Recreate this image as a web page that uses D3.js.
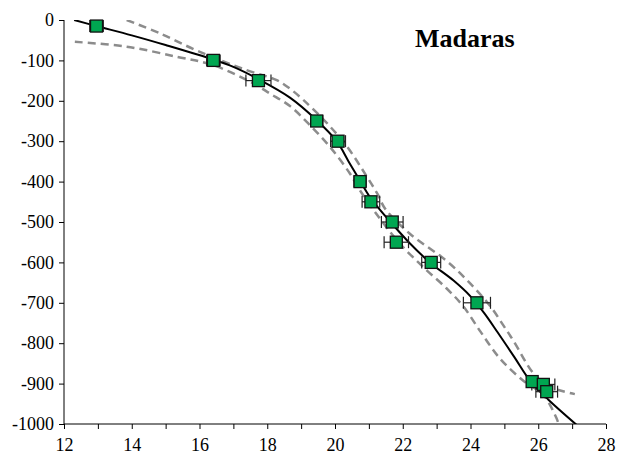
<!DOCTYPE html>
<html lang="en">
<head>
    <meta charset="UTF-8">
    <title>Madaras</title>
    <script src="https://d3js.org/d3.v7.min.js"></script>
    <style>
        body{
            margin: 0;
            background: #ffffff;
        }
        .axis line{
            stroke: #000;
            stroke-width: 1;
        }
    </style>
</head>
<body>
<svg id="chart" width="619" height="458"></svg>
<script>
    // measured points (age, depth) with age error
    const depth = [-15, -100, -150, -250, -300, -400, -450, -500, -550, -600, -700, -895, -902, -920];
    const age = [12.96, 16.41, 17.74, 19.46, 20.09, 20.74, 21.06, 21.69, 21.81, 22.84, 24.19, 25.82, 26.15, 26.25];
    const ageErr = [0.2, 0.2, 0.37, 0.18, 0.22, 0.18, 0.26, 0.32, 0.36, 0.28, 0.4, 0.15, 0.34, 0.32];

    // fitted model curve
    const fitAge = [12.3, 12.96, 14.0, 15.0, 16.41, 17.0, 17.73, 18.67, 19.46, 20.05, 20.4, 20.74, 21.03, 21.33, 21.67, 22.2, 22.8, 23.5, 24.0, 24.4, 24.8, 25.3, 25.76, 26.3, 27.13];
    const fitDepth = [0, -15, -38, -62, -98, -116, -146, -192, -248, -300, -350, -398, -438, -470, -503, -552, -600, -645, -684, -725, -773, -835, -893, -940, -1002];

    // confidence envelope (dashed)
    const upAge = [13.85, 14.83, 16.01, 17.39, 18.28, 18.67, 19.08, 19.77, 20.36, 20.95, 21.25, 21.48, 22.21, 23.29, 23.99, 24.58, 24.97, 25.26, 25.85, 26.25, 26.6, 27.08];
    const upDepth = [0, -33, -79, -124, -149, -170, -199, -256, -314, -389, -430, -467, -529, -596, -652, -708, -756, -793, -874, -904, -916, -926];
    const loAge = [12.32, 13.85, 15.33, 16.41, 17.59, 18.08, 18.67, 19.21, 19.85, 20.44, 20.74, 21.33, 21.92, 22.61, 23.29, 23.78, 24.3, 24.87, 25.56, 26.15, 26.54, 26.62];
    const loDepth = [-54, -66, -91, -112, -157, -182, -213, -256, -314, -380, -422, -492, -554, -612, -664, -708, -772, -838, -893, -928, -986, -1005];

    const xTicks = [12, 14, 16, 18, 20, 22, 24, 26, 28];
    const yTicks = [0, -100, -200, -300, -400, -500, -600, -700, -800, -900, -1000];

    const serif = "'Liberation Serif', 'Times New Roman', Tinos, 'DejaVu Serif', serif";

    let svg = d3.select("#chart");

    let x = d3.scaleLinear().domain([12, 28]).range([64, 606]);
    let y = d3.scaleLinear().domain([-1000, 0]).range([424, 20]);

    svg.append("defs").append("clipPath").attr("id", "plotclip")
        .append("rect")
        .attr("x", x(12)).attr("y", y(0))
        .attr("width", x(28) - x(12)).attr("height", y(-1000) - y(0));

    // axes
    svg.append("g")
        .attr("class", "axis")
        .attr("transform", "translate(0," + y(-1000) + ")")
        .call(d3.axisBottom(x).tickValues(d3.range(12, 29, 1)).tickSize(5)
            .tickFormat(d => xTicks.includes(d) ? String(d) : ""))
        .call(g => g.selectAll("text").attr("dy", "1.05em"));

    svg.append("g")
        .attr("class", "axis")
        .attr("transform", "translate(" + x(12) + ",0)")
        .call(d3.axisLeft(y).tickValues(yTicks).tickSize(5).tickFormat(d => String(d)))
        .call(g => g.selectAll("text").attr("x", -10));

    // plain axis lines (no end caps)
    svg.selectAll(".axis .domain").remove();
    svg.selectAll(".axis").attr("font-family", serif).attr("font-size", 18);
    svg.selectAll(".axis text").style("font-family", serif).style("font-size", "18px").attr("fill", "#000");
    svg.append("line").attr("x1", x(12)).attr("x2", x(28)).attr("y1", y(-1000)).attr("y2", y(-1000)).attr("stroke", "#000");
    svg.append("line").attr("x1", x(12)).attr("x2", x(12)).attr("y1", y(0)).attr("y2", y(-1000)).attr("stroke", "#000");

    let plot = svg.append("g").attr("clip-path", "url(#plotclip)");

    let line = d3.line()
        .x(d => x(d[0]))
        .y(d => y(d[1]))
        .curve(d3.curveCatmullRom);

    plot.append("path")
        .datum(d3.zip(upAge, upDepth))
        .attr("d", line)
        .attr("fill", "none")
        .attr("stroke", "#8c8c8c")
        .attr("stroke-width", 2.5)
        .attr("stroke-dasharray", "8,5");

    plot.append("path")
        .datum(d3.zip(loAge, loDepth))
        .attr("d", line)
        .attr("fill", "none")
        .attr("stroke", "#8c8c8c")
        .attr("stroke-width", 2.5)
        .attr("stroke-dasharray", "8,5");

    plot.append("path")
        .datum(d3.zip(fitAge, fitDepth))
        .attr("d", line)
        .attr("fill", "none")
        .attr("stroke", "#000")
        .attr("stroke-width", 2);

    // error bars
    let pts = d3.range(age.length).map(i => ({a: age[i], d: depth[i], e: ageErr[i]}));
    let eb = svg.append("g").attr("stroke", "#222").attr("stroke-width", 1.2);
    eb.selectAll(".bar").data(pts).enter().append("line")
        .attr("x1", d => x(d.a - d.e)).attr("x2", d => x(d.a + d.e))
        .attr("y1", d => y(d.d)).attr("y2", d => y(d.d));
    eb.selectAll(".capl").data(pts).enter().append("line")
        .attr("x1", d => x(d.a - d.e)).attr("x2", d => x(d.a - d.e))
        .attr("y1", d => y(d.d) - 6).attr("y2", d => y(d.d) + 6);
    eb.selectAll(".capr").data(pts).enter().append("line")
        .attr("x1", d => x(d.a + d.e)).attr("x2", d => x(d.a + d.e))
        .attr("y1", d => y(d.d) - 6).attr("y2", d => y(d.d) + 6);

    // markers
    svg.append("g").selectAll("rect").data(pts).enter().append("rect")
        .attr("x", d => x(d.a) - 6)
        .attr("y", d => y(d.d) - 6)
        .attr("width", 12)
        .attr("height", 12)
        .attr("fill", "#00a651")
        .attr("stroke", "#111")
        .attr("stroke-width", 1.3);

    svg.append("text")
        .attr("x", 415)
        .attr("y", 47)
        .style("font-family", serif)
        .style("font-size", "26px")
        .style("font-weight", "bold")
        .text("Madaras");
</script>
</body>
</html>
